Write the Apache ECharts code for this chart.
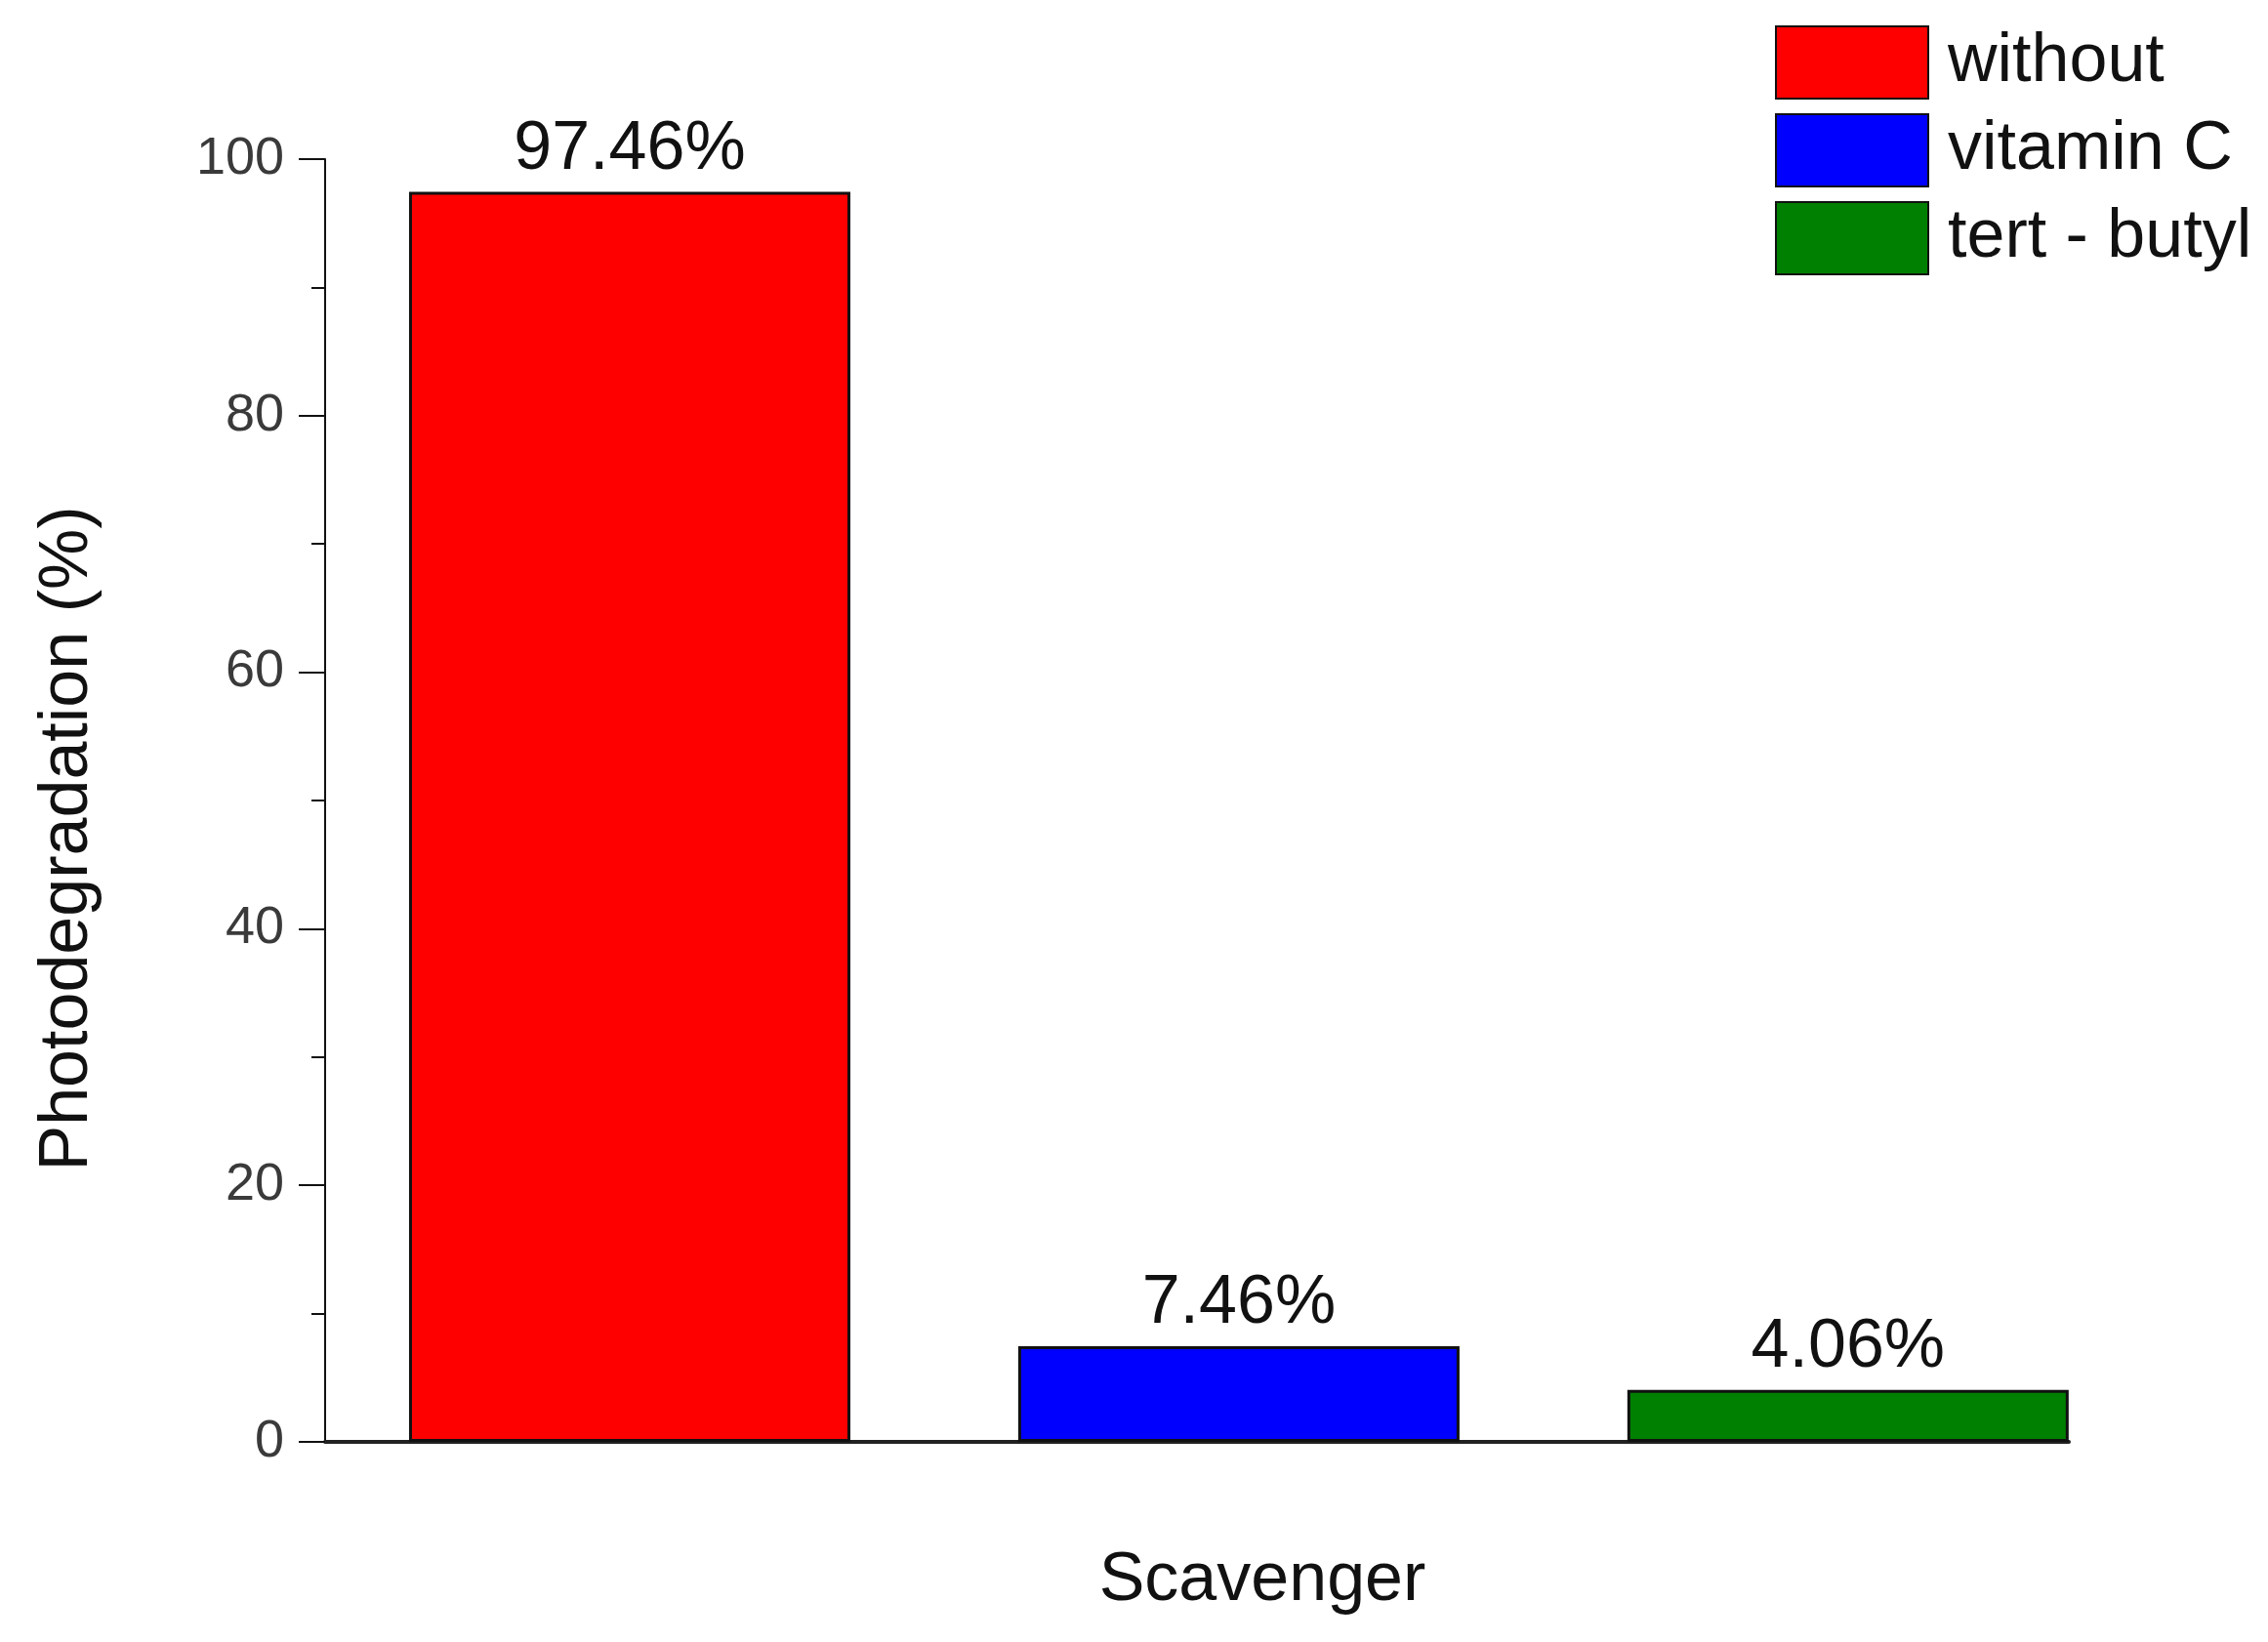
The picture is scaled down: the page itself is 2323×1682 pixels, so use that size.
<!DOCTYPE html>
<html>
<head>
<meta charset="utf-8">
<script src="https://cdn.jsdelivr.net/npm/echarts@6/dist/echarts.min.js"></script>
<style>
html,body{margin:0;padding:0;background:#fff;}
#chart{width:2323px;height:1682px;}
</style>
</head>
<body>
<div id="chart"></div>
<script>
const seriesNames = ['without', 'vitamin C', 'tert - butyl'];
const positions = [1, 2, 3];
const values = [97.46, 7.46, 4.06];
const colors = ['#ff0000', '#0000ff', '#008000'];
const yTicks = [0, 20, 40, 60, 80, 100];

const FONT = '"Liberation Sans", Arial, sans-serif';
const chart = echarts.init(document.getElementById('chart'), null, {renderer: 'canvas'});

const series = seriesNames.map((name, i) => ({
  name: name,
  type: 'bar',
  data: [[positions[i], values[i]]],
  barWidth: 452,
  barGap: '-100%',
  itemStyle: {color: colors[i], borderColor: '#111', borderWidth: 3},
  label: {
    show: true, position: 'top', distance: 8,
    fontFamily: FONT, fontSize: 70, color: '#111',
    formatter: p => p.value[1].toFixed(2) + '%'
  },
  emphasis: {disabled: true}
}));

chart.setOption({
  animation: false,
  backgroundColor: '#fff',
  grid: {left: 333, right: 204, top: 163, bottom: 205},
  legend: {
    orient: 'vertical', left: 1813, top: 21,
    itemWidth: 156, itemHeight: 74, itemGap: 14,
    icon: 'rect',
    data: seriesNames,
    textStyle: {fontFamily: FONT, fontSize: 70, color: '#111', padding: [0, 0, 0, 15]}
  },
  xAxis: {
    type: 'value', min: 0.5, max: 3.3625,
    axisLine: {show: true, onZero: false, lineStyle: {color: '#222', width: 4}},
    axisTick: {show: false}, axisLabel: {show: false}, splitLine: {show: false},
    name: 'Scavenger', nameLocation: 'middle', nameGap: 108,
    nameTextStyle: {fontFamily: FONT, fontSize: 70, color: '#111', padding: [0, 0, 0, 134]}
  },
  yAxis: {
    type: 'value', min: yTicks[0], max: yTicks[yTicks.length - 1], interval: 20,
    axisLine: {show: true, lineStyle: {color: '#111', width: 2}},
    axisTick: {show: true, inside: false, length: 27, lineStyle: {color: '#111', width: 2}},
    minorTick: {show: true, splitNumber: 2, length: 14, lineStyle: {color: '#111', width: 2}},
    splitLine: {show: false},
    axisLabel: {fontFamily: FONT, fontSize: 54, color: '#3a3a3a', margin: 42},
    name: 'Photodegradation (%)', nameLocation: 'middle', nameGap: 228, nameRotate: 90,
    nameTextStyle: {fontFamily: FONT, fontSize: 70, color: '#111', padding: [0, 78, 0, 0]}
  },
  series: series
});
</script>
</body>
</html>
